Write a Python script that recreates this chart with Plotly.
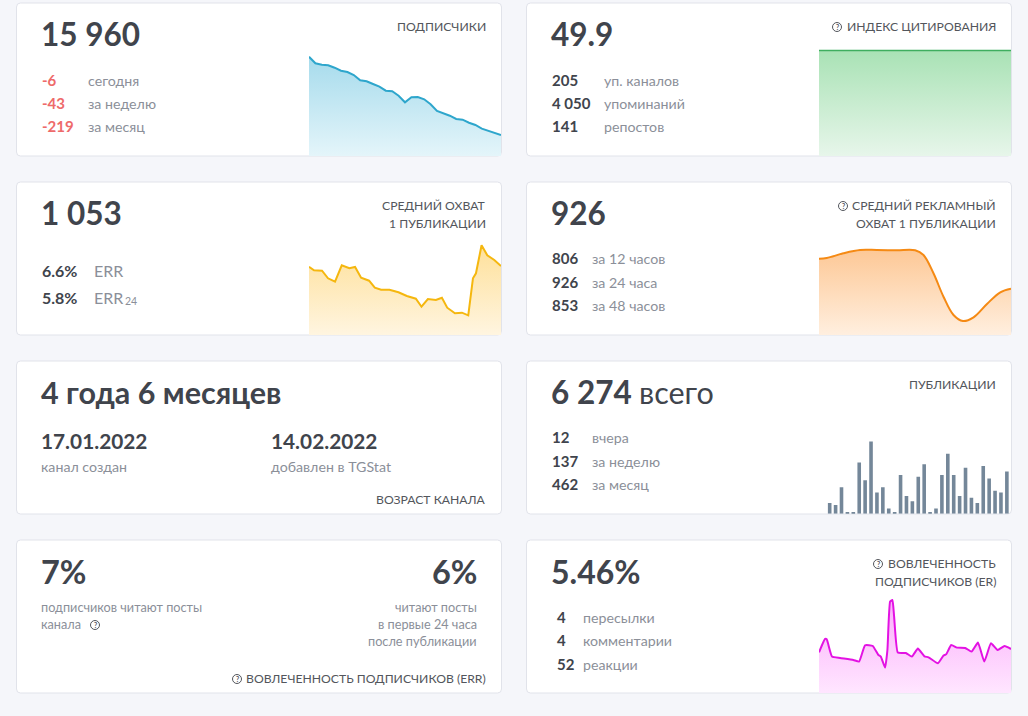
import plotly.graph_objects as go

W, H = 1028, 716
FONT = "Lato"
DARK = "#40444c"
GRAY = "#8b8f99"
LABEL = "#53565c"
RED = "#ee6a6a"

subs_x = list(range(31))
subs_y = [99.3, 92.7, 91.3, 90.7, 88.3, 85.3, 84, 81, 75.7, 74.7, 72, 69.3, 65.3, 64.7, 60.3, 53.7,
          58.7, 59, 56.7, 51.7, 45, 43, 40.3, 37, 36.3, 33.3, 31, 27.3, 25.3, 23.3, 21]

cite_x = [0, 30]
cite_y = [49.9, 49.9]

reach_x = [0, 5, 13, 19, 26, 32.7, 40.3, 46, 52, 60, 65.7, 72, 80.3, 89.3, 97.7, 106.7, 112.3, 118.7,
           126.7, 132.7, 138, 145.7, 152.7, 159, 163.7, 166.7, 172.3, 178, 185, 191.7]
reach_y = [68.3, 64.7, 64.3, 56.7, 53.3, 69.7, 66.7, 68, 57.3, 54.3, 47.3, 45.3, 45.3, 42.7, 39, 36.3,
           28.3, 36, 35, 37.3, 27.3, 21.7, 22.3, 19.7, 56.7, 61.7, 89.7, 79.7, 75, 69]

ad_x = [0, 7.7, 24.3, 41, 57.7, 77.7, 96, 104.3, 114.3, 124.3, 134.3, 143.7, 154.3, 167.7, 181, 191.7]
ad_y = [76.3, 77, 81.7, 85, 85, 84.7, 84.7, 80, 61.7, 38.3, 20, 14, 17.7, 31, 42.7, 46.3]

posts_x = list(range(31))
posts_y = [6, 5, 15, 0.4, 0.4, 29, 19, 41, 12, 15, 3, 1, 22, 10, 7, 21, 28, 0.4, 3, 22, 34, 22, 10, 26,
           9, 6, 27, 20, 13, 12, 24]

er_x = [0, 6, 7.7, 13, 21, 34.3, 40, 46, 53.7, 59.3, 61.7, 66, 68.3, 71, 73.3, 75, 78.7, 86.7, 92.7,
        98.7, 105.3, 109.3, 118.7, 124.3, 127, 132, 137.7, 146, 152.3, 158.7, 165, 171.7, 178.3, 185.3, 191.7]
er_y = [41, 54.3, 54, 36.7, 35.3, 33.3, 31.7, 48, 47.3, 38.3, 36.7, 25.7, 43.3, 91.7, 93.3, 76.7, 40.7,
        40.3, 36.7, 44.7, 37, 36, 30, 37.7, 39, 48.3, 45.7, 45.3, 41.7, 50.7, 31.7, 50, 43.3, 47.3, 44.3]

card_tops = [3, 182, 361, 540]
card_lefts = [16.5, 526.5]
CARD_W, CARD_H = 485, 153


def fx(px):
    return px / W


def fy(py):
    return 1 - py / H


fig = go.Figure()
shapes = []
ann = []


def text(px, py, s, size=13, color=GRAY, anchor="left", bold=False):
    ann.append(dict(xref="paper", yref="paper", x=fx(px), y=fy(py - 0.8), text=f"<b>{s}</b>" if bold else s,
                    showarrow=False, xanchor=anchor, yanchor="middle", align=anchor,
                    font=dict(family=FONT, size=size, color=color), borderpad=0, borderwidth=0))


def icon(cx, cy):
    r = 4.5
    shapes.append(dict(type="circle", xref="paper", yref="paper", x0=fx(cx - r), x1=fx(cx + r),
                       y0=fy(cy + r), y1=fy(cy - r), line=dict(color=LABEL, width=1), layer="above"))
    text(cx, cy + 0.8, "?", size=7, color=LABEL, anchor="center", bold=True)


def card(x, y):
    r = 4
    x0, x1, y0, y1 = fx(x), fx(x + CARD_W), fy(y + CARD_H), fy(y)
    rx, ry = r / W, r / H
    path = (f"M{x0 + rx},{y1} L{x1 - rx},{y1} Q{x1},{y1} {x1},{y1 - ry} L{x1},{y0 + ry} Q{x1},{y0} {x1 - rx},{y0} "
            f"L{x0 + rx},{y0} Q{x0},{y0} {x0},{y0 + ry} L{x0},{y1 - ry} Q{x0},{y1} {x0 + rx},{y1} Z")
    shapes.append(dict(type="path", xref="paper", yref="paper", path=path, fillcolor="white",
                       line=dict(color="#e1e3ea", width=1), layer="below"))


for t in card_tops:
    for l in card_lefts:
        card(l, t)

axis_count = 0


def add_axes(px0, px1, py0, py1, xr, yr):
    global axis_count
    axis_count += 1
    n = "" if axis_count == 1 else str(axis_count)
    common = dict(showgrid=False, zeroline=False, showticklabels=False, showline=False, ticks="", fixedrange=True)
    fig.update_layout({
        f"xaxis{n}": dict(domain=[fx(px0), fx(px1)], range=xr, anchor=f"y{n}", **common),
        f"yaxis{n}": dict(domain=[fy(py1), fy(py0)], range=yr, anchor=f"x{n}", **common),
    })
    return f"x{n}", f"y{n}"


def area(x, y, box, xr, yr, line, top, bottom, shape="linear", smoothing=None, width=2):
    xa, ya = add_axes(*box, xr, yr)
    ln = dict(color=line, width=width, shape=shape)
    if smoothing is not None:
        ln["smoothing"] = smoothing
    fig.add_trace(go.Scatter(x=x, y=y, xaxis=xa, yaxis=ya, mode="lines", line=ln, fill="tozeroy",
                             fillgradient=dict(type="vertical", colorscale=[[0, bottom], [1, top]]),
                             showlegend=False, hoverinfo="skip"))


area(subs_x, subs_y, (309, 501, 50, 156), [0, 30], [0, 106], "#2ea6cc", "#a6dbec", "#e4f5fa")
area(cite_x, cite_y, (819, 1011, 45, 156), [0, 30], [0, 52.5], "#3fae5f", "#a9e2b5", "#e7f6ea", width=1.5)
area(reach_x, reach_y, (309, 501, 230, 335), [0, 191.7], [0, 105], "#f5b70f", "#fee09a", "#fff5e0")
area(ad_x, ad_y, (819, 1011, 230, 335), [0, 191.7], [0, 105], "#f58a14", "#fdc896", "#ffefdf",
     shape="spline", smoothing=1)
area(er_x, er_y, (819, 1011, 590, 693.3), [0, 191.7], [0, 103.3], "#e312e3", "#fbaefb", "#ffe6ff",
     shape="spline", smoothing=0.4)

xa, ya = add_axes(819, 1011, 430, 513.7, [-1.81, 30.7], [0, 41 * 83.7 / 72.3])
fig.add_trace(go.Bar(x=posts_x, y=posts_y, xaxis=xa, yaxis=ya, marker=dict(color="#748799", line=dict(width=0)),
                     showlegend=False, hoverinfo="skip"))

BIG, ROW, VAL, LAB, SMALL = 31.5, 14.2, 15, 12.2, 12.7

# card 1
text(41, 35, "15 960", BIG, DARK, bold=True)
text(486, 27, "ПОДПИСЧИКИ", LAB, LABEL, "right")
for yy, v, s in [(81, "-6", "сегодня"), (104, "-43", "за неделю"), (127, "-219", "за месяц")]:
    text(42, yy, v, VAL, RED, bold=True)
    text(88, yy, s, ROW)

# card 2
text(551, 35, "49.9", BIG, DARK, bold=True)
text(996, 27, "ИНДЕКС ЦИТИРОВАНИЯ", LAB, LABEL, "right")
icon(837, 27)
for yy, v, s in [(81, "205", "уп. каналов"), (104, "4 050", "упоминаний"), (127, "141", "репостов")]:
    text(552, yy, v, VAL, DARK, bold=True)
    text(604, yy, s, ROW)

# card 3
text(41, 214, "1 053", BIG, DARK, bold=True)
text(486, 206, "СРЕДНИЙ ОХВАТ", LAB, LABEL, "right")
text(486, 224, "1 ПУБЛИКАЦИИ", LAB, LABEL, "right")
text(42, 271, "6.6%", 16, DARK, bold=True)
text(94, 271, "ERR", 16, GRAY)
text(42, 298, "5.8%", 16, DARK, bold=True)
text(94, 298, "ERR", 16, GRAY)
text(125, 302, "24", 10.5, GRAY)

# card 4
text(551, 214, "926", BIG, DARK, bold=True)
text(996, 206, "СРЕДНИЙ РЕКЛАМНЫЙ", LAB, LABEL, "right")
text(996, 224, "ОХВАТ 1 ПУБЛИКАЦИИ", LAB, LABEL, "right")
icon(843, 206)
for yy, v, s in [(259, "806", "за 12 часов"), (283, "926", "за 24 часа"), (306, "853", "за 48 часов")]:
    text(552, yy, v, VAL, DARK, bold=True)
    text(592, yy, s, ROW)

# card 5
text(41, 393, "4 года 6 месяцев", 30.5, DARK, bold=True)
text(41, 441, "17.01.2022", 20.8, DARK, bold=True)
text(271, 441, "14.02.2022", 20.8, DARK, bold=True)
text(41, 467, "канал создан", ROW)
text(271, 467, "добавлен в TGStat", ROW)
text(486, 500, "ВОЗРАСТ КАНАЛА", LAB, LABEL, "right")

# card 6
text(551, 393, "6 274", BIG, DARK, bold=True)
text(639, 393, "всего", 30.5, DARK)
text(996, 385, "ПУБЛИКАЦИИ", LAB, LABEL, "right")
for yy, v, s in [(438, "12", "вчера"), (462, "137", "за неделю"), (485, "462", "за месяц")]:
    text(552, yy, v, VAL, DARK, bold=True)
    text(592, yy, s, ROW)

# card 7
text(41, 572, "7%", 32.5, DARK, bold=True)
text(477, 572, "6%", 32.5, DARK, "right", bold=True)
text(41, 608, "подписчиков читают посты", SMALL)
text(41, 625, "канала", SMALL)
icon(95, 625)
text(477, 608, "читают посты", SMALL, GRAY, "right")
text(477, 625, "в первые 24 часа", SMALL, GRAY, "right")
text(477, 642, "после публикации", SMALL, GRAY, "right")
text(486, 679, "ВОВЛЕЧЕННОСТЬ ПОДПИСЧИКОВ (ERR)", LAB, LABEL, "right")
icon(237, 679)

# card 8
text(551, 572, "5.46%", 32, DARK, bold=True)
text(996, 564, "ВОВЛЕЧЕННОСТЬ", LAB, LABEL, "right")
text(996, 582, "ПОДПИСЧИКОВ (ER)", LAB, LABEL, "right")
icon(878, 564)
for yy, v, s in [(618, "4", "пересылки"), (641, "4", "комментарии"), (665, "52", "реакции")]:
    text(557, yy, v, VAL, DARK, bold=True)
    text(583, yy, s, ROW)

fig.update_layout(width=W, height=H, margin=dict(l=0, r=0, t=0, b=0, pad=0), autosize=False,
                  paper_bgcolor="#f5f6fa", plot_bgcolor="rgba(0,0,0,0)", showlegend=False, bargap=0.39,
                  shapes=shapes, annotations=ann, font=dict(family=FONT))

fig.write_html("out.html", config={"displayModeBar": False},
               post_script="document.body.style.margin='0';document.body.style.background='#f5f6fa';")
